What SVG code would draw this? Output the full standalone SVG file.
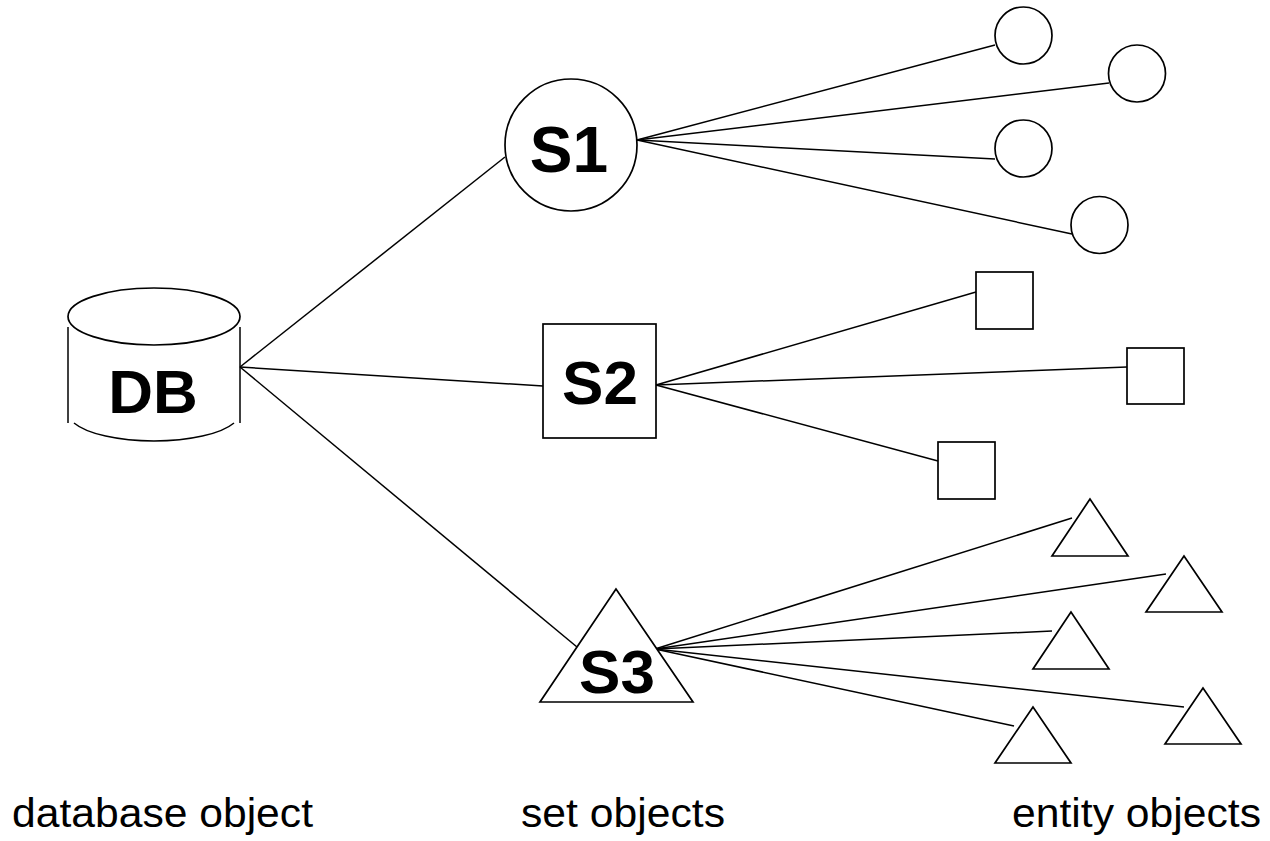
<svg xmlns="http://www.w3.org/2000/svg" width="1270" height="841" viewBox="0 0 1270 841">
  <style>
    .shape { fill: #ffffff; stroke: #000000; stroke-width: 1.7; }
    .edge { stroke: #000000; stroke-width: 1.5; fill: none; }
    .big { font-family: "Liberation Sans", Arial, sans-serif; font-weight: bold; fill: #000000; text-anchor: middle; }
    .cap { font-family: "Liberation Sans", Arial, sans-serif; font-size: 40px; fill: #000000; }
  </style>
  <rect width="1270" height="841" fill="#ffffff"/>

  <!-- connectors -->
  <g id="connectors" class="edge">
    <!-- database to sets -->
    <line x1="240" y1="367" x2="505" y2="157"/>
    <line x1="240" y1="367" x2="543" y2="386"/>
    <line x1="240" y1="367" x2="577" y2="647"/>
    <!-- S1 to entities -->
    <line x1="637" y1="140" x2="995" y2="45"/>
    <line x1="637" y1="140" x2="1109" y2="83"/>
    <line x1="637" y1="140" x2="995" y2="159"/>
    <line x1="637" y1="140" x2="1072" y2="234"/>
    <!-- S2 to entities -->
    <line x1="656" y1="385" x2="976" y2="292"/>
    <line x1="656" y1="385" x2="1127" y2="367"/>
    <line x1="656" y1="385" x2="938" y2="461"/>
    <!-- S3 to entities -->
    <line x1="655" y1="649" x2="1072" y2="518"/>
    <line x1="655" y1="649" x2="1166" y2="574"/>
    <line x1="655" y1="649" x2="1052" y2="631"/>
    <line x1="655" y1="649" x2="1184" y2="707"/>
    <line x1="655" y1="649" x2="1014" y2="726"/>
  </g>

  <!-- database object -->
  <g id="db">
    <ellipse class="shape" cx="154" cy="316.5" rx="86" ry="28.5"/>
    <line class="edge" x1="68" y1="327" x2="68" y2="423"/>
    <line class="edge" x1="240" y1="327" x2="240" y2="423"/>
    <path class="edge" d="M 74 423 A 86 28.5 0 0 0 234 423"/>
    <text class="big" x="153" y="413" font-size="62">DB</text>
  </g>

  <!-- set objects -->
  <g id="s1">
    <circle class="shape" cx="571" cy="145" r="66"/>
    <text class="big" x="569" y="172" font-size="64">S1</text>
  </g>
  <g id="s2">
    <rect class="shape" x="543" y="324" width="113" height="114"/>
    <text class="big" x="600" y="404" font-size="62">S2</text>
  </g>
  <g id="s3">
    <polygon class="shape" points="616,589 540,702 693,702"/>
    <text class="big" x="617" y="693" font-size="62">S3</text>
  </g>

  <!-- entity objects: circles -->
  <g id="e-c1"><circle class="shape" cx="1023.5" cy="35.5" r="28.5"/></g>
  <g id="e-c2"><circle class="shape" cx="1137" cy="73.5" r="28.5"/></g>
  <g id="e-c3"><circle class="shape" cx="1023.5" cy="148.5" r="28.5"/></g>
  <g id="e-c4"><circle class="shape" cx="1099.5" cy="225" r="28.5"/></g>

  <!-- entity objects: squares -->
  <g id="e-r1"><rect class="shape" x="976" y="272" width="57" height="57"/></g>
  <g id="e-r2"><rect class="shape" x="1127" y="348" width="57" height="56"/></g>
  <g id="e-r3"><rect class="shape" x="938" y="442" width="57" height="57"/></g>

  <!-- entity objects: triangles -->
  <g id="e-t1"><polygon class="shape" points="1090,499 1052,556 1128,556"/></g>
  <g id="e-t2"><polygon class="shape" points="1184,556 1146,612 1222,612"/></g>
  <g id="e-t3"><polygon class="shape" points="1071,612 1033,669 1109,669"/></g>
  <g id="e-t4"><polygon class="shape" points="1203,688 1165,744 1241,744"/></g>
  <g id="e-t5"><polygon class="shape" points="1033,707 995,763 1071,763"/></g>

  <!-- column captions -->
  <g id="captions">
    <text class="cap" x="12" y="827" textLength="301" lengthAdjust="spacingAndGlyphs">database object</text>
    <text class="cap" x="521" y="827" textLength="204" lengthAdjust="spacingAndGlyphs">set objects</text>
    <text class="cap" x="1012" y="827" textLength="249" lengthAdjust="spacingAndGlyphs">entity objects</text>
  </g>
</svg>
